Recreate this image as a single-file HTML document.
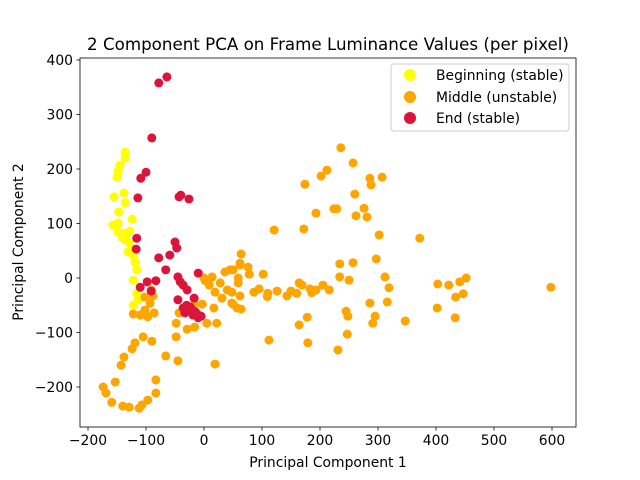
<!DOCTYPE html>
<html><head><meta charset="utf-8"><style>
body{margin:0;background:#fff;}
svg{display:block;font-family:"DejaVu Sans","Liberation Sans",sans-serif;}
</style></head><body>
<svg id="chart" width="640" height="480" viewBox="0 0 640 480" xmlns="http://www.w3.org/2000/svg">
<rect x="0" y="0" width="640" height="480" fill="#fff"/>
<text x="328" y="50" text-anchor="middle" font-size="16.7" fill="#000">2 Component PCA on Frame Luminance Values (per pixel)</text>
<g id="marks"></g>
<g id="axes"></g>
<text x="328" y="467" text-anchor="middle" font-size="13.9">Principal Component 1</text>
<text transform="translate(23,242) rotate(-90)" text-anchor="middle" font-size="13.9">Principal Component 2</text>
<g>
<rect x="391" y="64" width="178" height="67" rx="3" fill="#fff" fill-opacity="0.8" stroke="#ccc"/>
<circle cx="410" cy="75" r="6" fill="#ffff00"/>
<text x="436" y="80" font-size="13.9">Beginning (stable)</text>
<circle cx="410" cy="97" r="6" fill="#ffa500"/>
<text x="436" y="102" font-size="13.9">Middle (unstable)</text>
<circle cx="410" cy="118" r="6" fill="#dc143c"/>
<text x="436" y="123" font-size="13.9">End (stable)</text>
</g>
</svg>
<script>
const xTicks=[-200,-100,0,100,200,300,400,500,600];
const yTicks=[-200,-100,0,100,200,300,400];
const begX=[-136,-136,-145,-148,-150,-155,-138,-136,-147,-124,-157,-148,-128,-141,-136,-148,-130,-140,-128,-131,-122,-119,-116,-122,-116,-114,-122,-152];
const begY=[231,220,207,196,185,149,156,138,121,108,97,101,86,82,70,84,84,73,64,48,42,29,15,-4,-28,-40,-50,95];
const midX=[236,257,212,202,174,286,307,288,260,193,224,229,276,262,281,121,172,302,372,64,297,234,257,312,319,234,250,403,422,441,452,447,434,402,433,286,316,245,248,295,291,347,247,231,179,112,164,178,45,62,76,78,59,48,62,48,57,102,95,86,110,109,126,143,150,160,164,183,193,205,216,186,169,598,62,50,36,14,28,59,9,19,40,31,50,64,17,-3,-16,5,22,-16,-29,-48,-48,-43,-66,-45,19,-122,-110,-97,-86,-102,-93,-102,-91,-88,-119,-105,-90,-124,-138,-143,-153,-174,-169,-159,-140,-129,-112,-107,-97,-83,-83,0,2];
const midY=[239,211,198,187,172,183,185,171,154,119,127,127,128,114,112,88,90,79,73,44,35,26,28,2,-18,2,-4,-11,-13,-7,0,-29,-35,-55,-73,-46,-44,-61,-70,-70,-83,-79,-103,-132,-119,-114,-86,-72,15,24,20,7,-9,-26,-33,-46,-55,7,-20,-26,-28,-34,-24,-33,-24,-28,-9,-20,-22,-13,-22,-27,-13,-17,27,15,11,2,-9,0,-13,-26,-22,-37,-48,-57,-55,-48,-48,-83,-83,-90,-94,-83,-108,-64,-143,-152,-158,-66,-68,-71,-64,-59,-46,-35,-22,-33,-119,-108,-116,-130,-145,-160,-191,-200,-211,-228,-235,-237,-239,-233,-224,-211,-187,0,-5];
const endX=[-64,-78,-90,-100,-109,-114,-40,-43,-26,-50,-47,-59,-78,-116,-117,-66,-45,-41,-36,-29,-10,-17,-45,-110,-98,-83,-91,-36,-28,-19,-10,-33,-24,-15,-5,-30,-22,-12];
const endY=[369,358,257,194,183,147,152,149,145,66,55,42,37,73,53,15,2,-7,-13,-22,9,-37,-40,-17,-7,-5,-24,-55,-59,-68,-73,-64,-53,-62,-70,-50,-57,-66];
const NS="http://www.w3.org/2000/svg";
const L=80,R=576,T=58,B=427;
function sx(v){return 204+v*0.58;}
function sy(v){return 278-v*0.545;}
const marks=document.getElementById('marks');
function series(xs,ys,color,name){
  for(let i=0;i<xs.length;i++){
    const c=document.createElementNS(NS,'circle');
    c.setAttribute('cx',sx(xs[i]));c.setAttribute('cy',sy(ys[i]));
    c.setAttribute('r',4.5);c.setAttribute('fill',color);
    
    
    marks.appendChild(c);
  }
}
series(begX,begY,'#ffff00','point-beginning');
series(midX,midY,'#ffa500','point-middle');
series(endX,endY,'#dc143c','point-end');
const axes=document.getElementById('axes');
const fr=document.createElementNS(NS,'rect');
fr.setAttribute('x',L);fr.setAttribute('y',T);fr.setAttribute('width',R-L);fr.setAttribute('height',B-T);
fr.setAttribute('fill','none');fr.setAttribute('stroke','#000');fr.setAttribute('stroke-width','0.8');


axes.appendChild(fr);
xTicks.forEach(t=>{
  const x=sx(t);
  const ln=document.createElementNS(NS,'line');
  ln.setAttribute('x1',x);ln.setAttribute('x2',x);ln.setAttribute('y1',B);ln.setAttribute('y2',B+3.5);ln.setAttribute('stroke','#000');ln.setAttribute('stroke-width','0.8');
  
  
  axes.appendChild(ln);
  const tx=document.createElementNS(NS,'text');
  tx.setAttribute('x',x);tx.setAttribute('y',B+18);tx.setAttribute('text-anchor','middle');tx.setAttribute('font-size','13.9');
  tx.textContent=String(t).replace('-','\u2212');
  
  
  axes.appendChild(tx);
});
yTicks.forEach(t=>{
  const y=sy(t);
  const ln=document.createElementNS(NS,'line');
  ln.setAttribute('x1',L-3.5);ln.setAttribute('x2',L);ln.setAttribute('y1',y);ln.setAttribute('y2',y);ln.setAttribute('stroke','#000');ln.setAttribute('stroke-width','0.8');
  
  
  axes.appendChild(ln);
  const tx=document.createElementNS(NS,'text');
  tx.setAttribute('x',L-7);tx.setAttribute('y',y+5);tx.setAttribute('text-anchor','end');tx.setAttribute('font-size','13.9');
  tx.textContent=String(t).replace('-','\u2212');
  
  
  axes.appendChild(tx);
});
</script>
</body></html>
